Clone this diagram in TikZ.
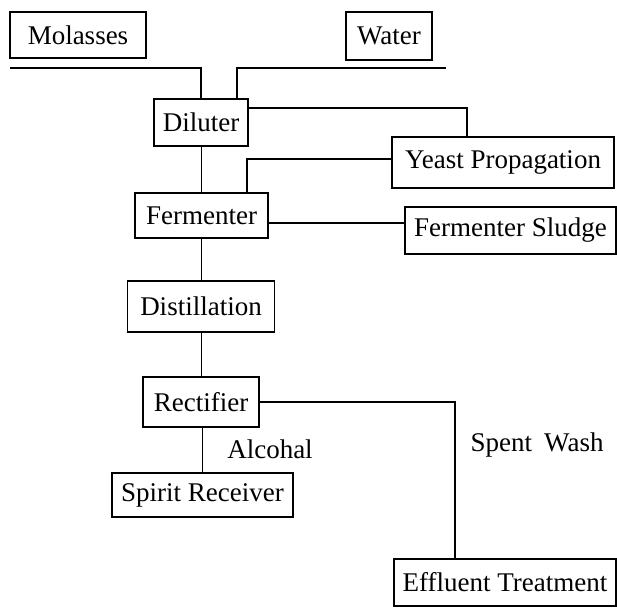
\documentclass[tikz,border=0pt]{standalone}
\usepackage{fontspec}
\setmainfont{Liberation Serif}
\begin{document}
\begin{tikzpicture}[x=1pt,y=-1pt,
  box/.style={draw, line width=1.2pt, inner sep=0pt, font=\fontsize{27}{32}\selectfont},
  lbl/.style={inner sep=0pt, font=\fontsize{27}{32}\selectfont},
  conn/.style={line width=1.2pt}]
\useasboundingbox (0,0) rectangle (617,608);
% boxes (center, width, height)
\node[box, minimum width=136pt, minimum height=46pt] (mol) at (78,35) {Molasses};
\node[box, minimum width=86pt, minimum height=48pt] (wat) at (389,36) {Water};
\node[box, minimum width=94pt, minimum height=47pt] (dil) at (201,122.5) {Diluter};
\node[box, minimum width=222pt, minimum height=51pt] (yst) at (503,162.5) {Yeast Propagation};
\node[box, minimum width=133pt, minimum height=45pt] (fer) at (201.5,215.5) {Fermenter};
\node[box, minimum width=211pt, minimum height=47pt] (slu) at (510.5,230.5) {Fermenter Sludge};
\node[box, minimum width=147pt, minimum height=51pt] (dis) at (201,306.5) {Distillation};
\node[box, minimum width=116pt, minimum height=50pt] (rec) at (201,402) {Rectifier};
\node[box, minimum width=181pt, minimum height=44pt] (spi) at (202.5,495) {Spirit Receiver};
\node[box, minimum width=222pt, minimum height=47pt] (eff) at (505,582.5) {Effluent Treatment};
% labels
\node[lbl] (alc) at (270,449) {Alcohal};
\node[lbl] (spw) at (537,445) {Spent\hspace{0.45em}Wash};
% free ends and connection points
\coordinate (mL) at (10,68);
\coordinate (wR) at (446,68);
\coordinate (fs) at ([yshift=-7.5pt]fer.east);
\coordinate (ds) at ([yshift=14.5pt,xshift=-2pt]dil.east);
% connectors
\draw[conn] (mL) -| (dil.north);
\draw[conn] (wR) -| ([xshift=36pt]dil.north);
\draw[conn] (ds) -| ([xshift=-36pt]yst.north);
\draw[conn] ([yshift=3.5pt]yst.west) -| ([xshift=45.5pt]fer.north);
\draw[conn] ([xshift=0.5pt]dil.south) -- (fer.north);
\draw[conn] (fer.south) -- ([xshift=0.5pt]dis.north);
\draw[conn] ([xshift=0.5pt]dis.south) -- ([xshift=0.5pt]rec.north);
\draw[conn] ([xshift=1.5pt]rec.south) -- (spi.north);
\draw[conn] (fs) -- (fs -| slu.west);
\draw[conn] (rec.east) -| ([xshift=-50pt]eff.north);
\end{tikzpicture}
\end{document}
